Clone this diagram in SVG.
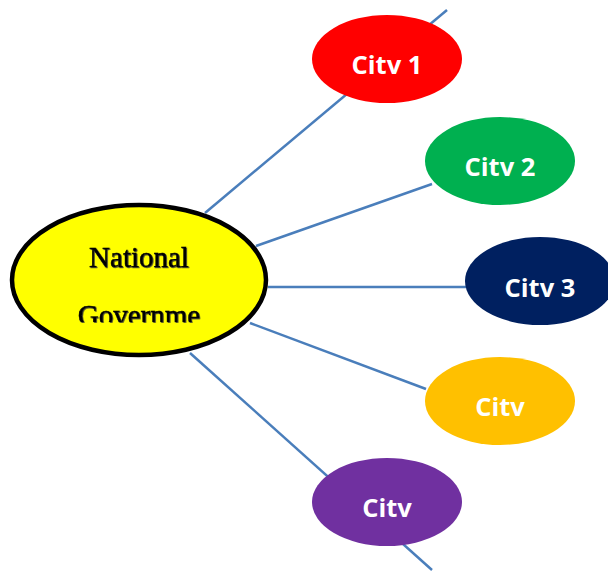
<svg xmlns="http://www.w3.org/2000/svg" width="608" height="571" viewBox="0 0 608 571">
<style>
.conn{stroke:#4A7EBB;stroke-width:2.5;fill:none}
.city{stroke:none}
.ct{font-family:"Open Sans","Liberation Sans",sans-serif;font-weight:bold;font-size:25.5px;fill:#FFFFFF;text-anchor:middle}
.nt{font-family:"Liberation Serif","Times New Roman",serif;font-size:29px;fill:#000;stroke:#000;stroke-width:0.4;text-anchor:middle}
</style>
<defs>
<filter id="sh" x="-10%" y="-20%" width="120%" height="140%">
<feDropShadow dx="0.8" dy="0.8" stdDeviation="0.3" flood-color="#333"/>
</filter>
<clipPath id="natclip"><rect x="0" y="0" width="608" height="322"/></clipPath>
</defs>
<rect width="608" height="571" fill="#fff"/>
<g id="connectors">
<line class="conn" x1="205" y1="213" x2="447" y2="10"/>
<line class="conn" x1="256" y1="246" x2="432" y2="184"/>
<line class="conn" x1="268" y1="287" x2="466" y2="287"/>
<line class="conn" x1="250" y1="323" x2="426" y2="389"/>
<line class="conn" x1="190" y1="353" x2="432" y2="570"/>
</g>
<g id="national">
<ellipse cx="139" cy="280" rx="127" ry="75" fill="#FFFF00" stroke="#000" stroke-width="4.5"/>
<g filter="url(#sh)">
<text class="nt" x="139" y="267">National</text>
<text class="nt" x="139" y="325" clip-path="url(#natclip)">Governme</text>
</g>
</g>
<g id="city1">
<ellipse class="city" cx="387" cy="59" rx="75" ry="44" fill="#FF0000"/>
<text class="ct" x="387" y="74">Citv 1</text>
</g>
<g id="city2">
<ellipse class="city" cx="500" cy="161" rx="75" ry="44" fill="#00B050"/>
<text class="ct" x="500" y="176">Citv 2</text>
</g>
<g id="city3">
<ellipse class="city" cx="540" cy="281" rx="75" ry="44" fill="#002060"/>
<text class="ct" x="540" y="297">Citv 3</text>
</g>
<g id="city4">
<ellipse class="city" cx="500" cy="401" rx="75" ry="44" fill="#FFC000"/>
<text class="ct" x="500" y="416">Citv</text>
</g>
<g id="city5">
<ellipse class="city" cx="387" cy="502" rx="75" ry="44" fill="#7030A0"/>
<text class="ct" x="387" y="517">Citv</text>
</g>
</svg>
